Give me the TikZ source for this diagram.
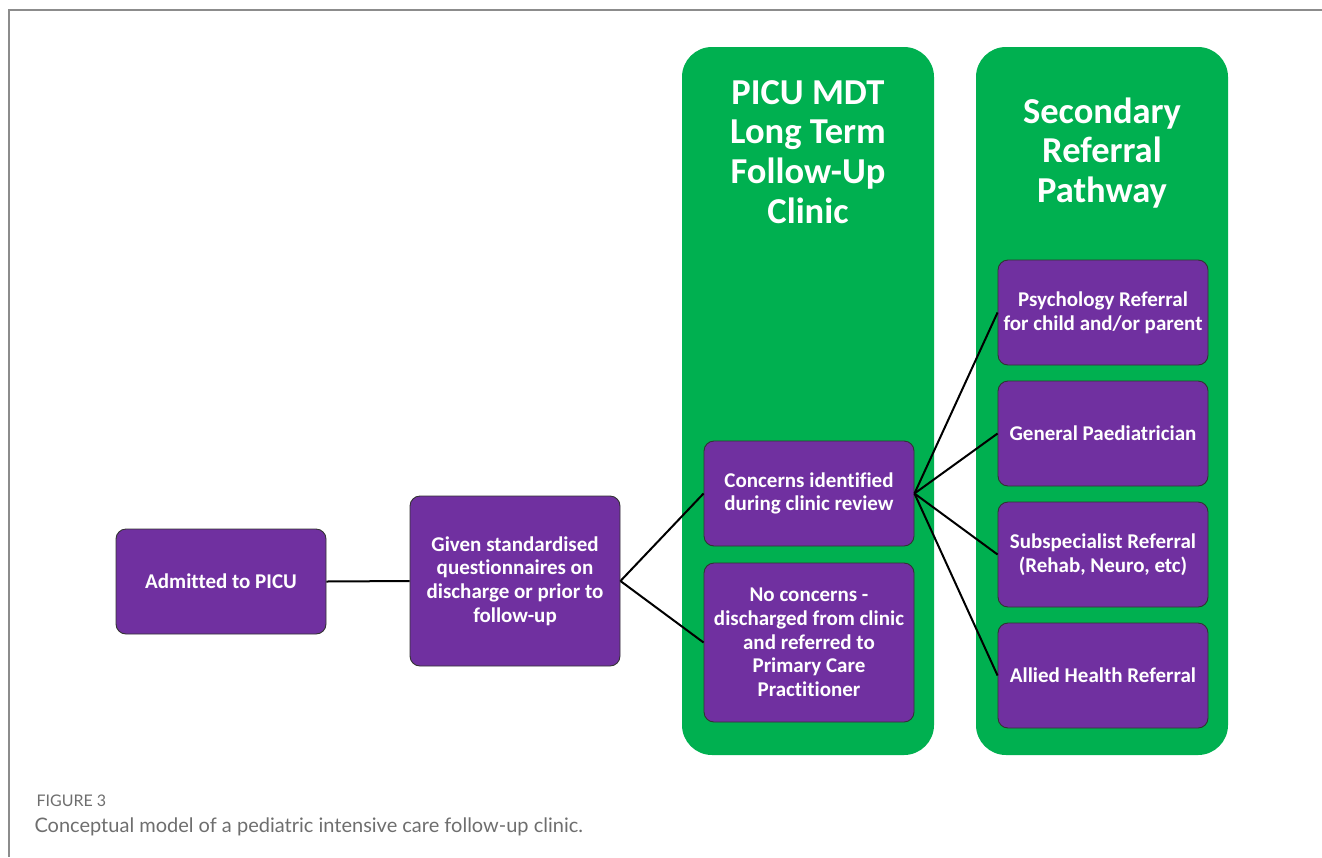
\documentclass[tikz,border=0pt]{standalone}
\usepackage{fontspec}
\setmainfont{Carlito}[Ligatures=NoCommon]
\newfontfamily\capfont{Lato}
\usepackage{xcolor}
\definecolor{picupurple}{HTML}{7030A0}
\definecolor{clinicgreen}{HTML}{00B050}
\definecolor{framegray}{HTML}{8C8C8C}
\definecolor{capgray}{HTML}{6E6E6E}

\begin{document}
\begin{tikzpicture}[x=1pt,y=-1pt,
        panel/.style={fill=clinicgreen,rounded corners=30pt,minimum width=252pt,minimum height=708pt,inner sep=0pt},
        stagebox/.style={draw=black!80,line width=0.9pt,fill=picupurple,rounded corners=10pt,
            minimum width=210pt,align=center,inner sep=0pt,text=white,
            font=\fontsize{21}{23.7}\selectfont\bfseries},
        paneltitle/.style={text=white,align=center,font=\fontsize{36.5}{39.8}\selectfont\bfseries},
        link/.style={line width=2pt}]
    \useasboundingbox (0,0) rectangle (1322,857);
    \draw[framegray,line width=1.2pt] (1322,10) -- (9,10) -- (9,857);

    % green columns
    \node[panel] (clinic) at (808,401) {};
    \node[panel] (referral) at (1102,401) {};
    \node[paneltitle] (clinictitle) at (808,152) {PICU MDT\\Long Term\\Follow-Up\\Clinic};
    \node[paneltitle] (referraltitle) at (1102,153) {Secondary\\Referral\\Pathway};

    % pathway boxes
    \node[stagebox,minimum height=105pt] (admit) at (221,581.5) {Admitted to PICU};
    \node[stagebox,minimum height=170pt] (quest) at (515,581) {Given standardised\\questionnaires on\\discharge or prior to\\follow-up};
    \node[stagebox,minimum height=105pt] (concern) at (809,493.5) {Concerns identified\\during clinic review};
    \node[stagebox,minimum height=159pt] (noconcern) at (809,642.5) {No concerns -\\discharged from clinic\\and referred to\\Primary Care\\Practitioner};
    \foreach \n/\y/\t in {psych/312.5/{Psychology Referral\\for child and/or parent},
                          genpaed/433.5/{General Paediatrician},
                          subspec/554.5/{Subspecialist Referral\\(Rehab, Neuro, etc)},
                          allied/675.5/{Allied Health Referral}}{
        \node[stagebox,minimum height=105pt] (\n) at (1103,\y) {\t};
    }

    % connectors
    \draw[link] (admit.east) -- (quest.west);
    \draw[link] (quest.east) -- (concern.west);
    \draw[link] (quest.east) -- (noconcern.west);
    \foreach \n in {psych,genpaed,subspec,allied}{
        \draw[link] (concern.east) -- (\n.west);
    }

    % caption
    \node[anchor=base west,text=capgray,font=\capfont\fontsize{16}{18}\selectfont] (fignum) at (33,806) {FIGURE 3};
    \node[anchor=base west,text=capgray,font=\capfont\fontsize{20}{22}\selectfont] (figcap) at (31,832) {Conceptual model of a pediatric intensive care follow-up clinic.};
\end{tikzpicture}
\end{document}
